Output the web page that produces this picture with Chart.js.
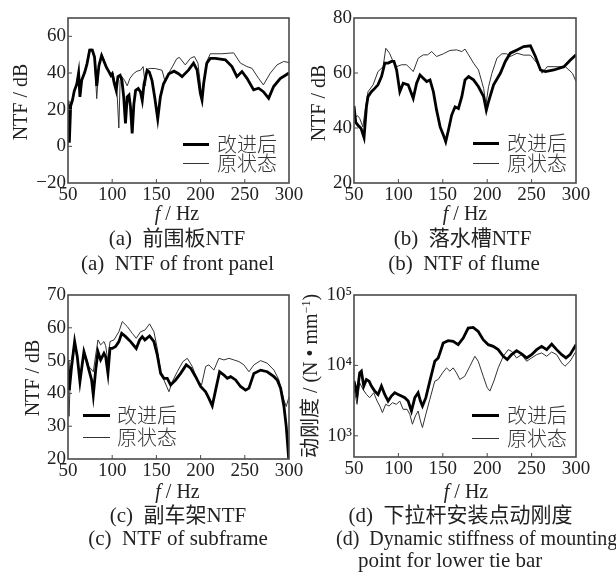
<!DOCTYPE html>
<html>
<head>
<meta charset="utf-8">
<script src="https://cdn.jsdelivr.net/npm/chart.js@4.4.1/dist/chart.umd.min.js"></script>
<style>
  body { margin: 0; background: #fff; }
  #wrap { position: relative; width: 616px; height: 574px; overflow: hidden; color: #222;
          font-family: "Liberation Serif", "Times New Roman", "Noto Sans CJK SC", serif; }
  canvas { position: absolute; }
  .t { position: absolute; white-space: pre; line-height: 1; transform: translate(-50%, -50%); }
  .tl { position: absolute; white-space: pre; line-height: 1; transform: translate(0, -50%); }
  .cap { font-size: 21px; }
  .ytitle { position: absolute; white-space: pre; line-height: 1; font-size: 20px;
            transform: translate(-50%, -50%) rotate(-90deg); }
  .zh { font-family: "Liberation Serif", "Noto Sans CJK SC", sans-serif; }
  .legline { position: absolute; background: #000; }
  .legtxt { position: absolute; font-size: 20px; line-height: 1; transform: translate(0, -50%);
            font-family: "Noto Sans CJK SC", sans-serif; font-weight: 300; color: #333; }
</style>
</head>
<body>
<div id="wrap">
  <canvas id="ca" width="310" height="207" style="left:0px;top:0px"></canvas>
  <canvas id="cb" width="316" height="207" style="left:300px;top:0px"></canvas>
  <canvas id="cc" width="310" height="206" style="left:0px;top:277px"></canvas>
  <canvas id="cd" width="316" height="204" style="left:300px;top:277px"></canvas>
</div>
<script>
const freqTicks = [50, 100, 150, 200, 250, 300];
const seriesNames = ['改进后', '原状态'];

// (a) 前围板NTF
const aFreqNew = [50, 51.5, 53, 55, 57, 60, 62, 63.5, 65.5, 69, 71.5, 74.5, 77.5, 80, 82.5, 85, 88, 91, 93.5, 96.5,
  98.5, 100, 102.5, 104.5, 106.5, 109, 111, 113, 115, 117, 119, 120.7, 122.6, 124.5, 126.5, 129.5, 132, 134, 136, 139.5,
  142, 145, 148, 151.5, 154.5, 158, 164, 170, 175, 179, 186.5, 192, 196, 199.7, 201.6, 203.5, 207, 211, 216.6, 228,
  235.5, 241, 246.8, 252.5, 260, 265.6, 271, 277, 282.6, 290, 300];
const aNtfNew = [25, 2, 22, 25, 30, 34, 40, 27, 36, 40.5, 45, 52.5, 52.5, 48.7, 33, 44, 49.5, 46, 43, 40.5,
  38.7, 39.6, 34, 30.5, 38, 38.7, 36, 27, 12.5, 27, 28, 21.5, 7, 23, 30.5, 31.5, 29.6, 25, 34, 41.5,
  40.5, 36, 27, 15, 27, 34, 39.6, 41, 39.6, 38, 41.7, 45.4, 41.7, 29, 25.3, 34.4, 45.4, 48, 48, 47.2,
  43.5, 38, 40.8, 37.1, 30.8, 31.7, 29.8, 26.2, 32.6, 37, 40];
const aFreqOld = [50, 51.5, 53, 55, 57, 60, 62, 63.5, 65.5, 69, 71.5, 74.5, 77.5, 80, 82.5, 85, 88, 91, 93.5, 96.5,
  99, 101, 103, 105, 107.5, 109, 111, 114, 117, 120, 124, 128, 132, 135, 137.5, 139.5, 143, 149, 156.4, 160,
  164, 168, 173, 176, 182.7, 188.4, 193, 197, 199.5, 201.6, 204, 207, 211, 224, 237.4, 245, 252.5, 258, 265.6, 271,
  278.8, 286.4, 294, 300];
const aNtfOld = [23, 8, 24, 26, 30, 35, 40, 28, 37, 41, 46, 53, 53, 48, 26, 45, 50.5, 47, 43, 41,
  39, 40, 35, 34, 10, 36, 38, 36, 33, 37, 39.6, 41, 41.5, 43.5, 33, 42, 42.5, 42.4, 41.5, 35,
  40, 43.3, 47.8, 48.5, 44.4, 48, 49, 45.4, 35, 25.3, 36, 46.3, 50.5, 50.5, 51, 45.4, 43.5, 42.6, 37.1, 33.5,
  39.9, 44.4, 46.3, 45.7];
const aYTicks = [-20, 0, 20, 40, 60];

// (b) 落水槽NTF
const bFreqNew = [50, 52, 54.5, 58, 61.3, 64, 65.8, 69.6, 73.4, 77, 81, 84.7, 88.5, 92.2, 95, 98, 101.6, 105.4, 111, 116.7,
  120.5, 124.3, 128, 131.8, 135.6, 139.4, 143, 147, 150.7, 153.3, 156.3, 160, 163.8, 167.6, 171.4, 175, 179, 184.6, 190.2, 196,
  199, 201.5, 207.2, 214.8, 220.4, 226, 233.6, 241, 248.7, 254.3, 260, 265.6, 275, 286.4, 294, 300];
const bNtfNew = [48, 42, 41, 39.8, 36.5, 47.7, 51.4, 53.2, 54.4, 55.7, 58.7, 63.6, 63.6, 64.2, 64.2, 61.1, 53.2, 56.3, 55.7, 50.8,
  56.3, 59.3, 58.1, 56.9, 57.5, 53.2, 46.5, 40.4, 37.4, 35, 39.2, 44.7, 47.7, 47.1, 51.4, 57.5, 58.7, 57.5, 55, 51.4,
  46.5, 49.6, 55.7, 59.9, 64.2, 67.2, 68.4, 69.6, 69.9, 66, 61.1, 60.5, 61.1, 62.3, 64.8, 66.6];
const bFreqOld = [50, 52, 54, 56.4, 60, 63, 65.8, 71.5, 77, 82.8, 85.8, 90, 94, 98, 103.5, 109.2, 115, 116.7, 122.4, 128,
  133, 137.5, 143, 150.7, 158, 165.7, 171.4, 175, 179, 184.6, 190.2, 196, 198.5, 201.5, 205.3, 211, 216.6, 222, 226, 233.6,
  241, 248.7, 256, 261.8, 267.5, 279, 288, 296, 300];
const bNtfOld = [47, 44, 44.5, 43.5, 40.4, 47.7, 53.2, 55.7, 60.5, 62.3, 69, 67.2, 64.2, 62.3, 63, 63, 61.1, 60.5, 65.4, 66.6,
  66.6, 67.8, 66, 67, 68.2, 68.4, 67.8, 68.7, 66.6, 63.6, 61.1, 54.4, 48.4, 55, 59.9, 65.4, 67, 67, 66, 67.2,
  66.5, 66.5, 63.6, 59.9, 62.3, 62.3, 62.3, 59.9, 56.9];
const bYTicks = [20, 40, 60, 80];

// (c) 副车架NTF
const cFreqNew = [50, 51.5, 54, 57.5, 60.5, 63.5, 66, 68, 70.7, 73.7, 76.7, 78.6, 81.3, 83.9, 86.9, 90.7, 92.6, 95.2, 97.5, 100.1,
  103.9, 107.6, 110.7, 115.2, 120.8, 127.2, 131, 134, 137, 142.3, 147.2, 151, 154.8, 158.5, 162.3, 166.1, 171.7, 177.4, 183.8, 188.7,
  194.4, 200, 205.7, 209.4, 213.2, 217, 221.5, 226.4, 230.2, 234, 239.6, 245.2, 250.9, 254.7, 260.3, 267.9, 275.4, 283, 286.7, 290.5,
  294.3, 296.9, 299.2, 300];
const cNtfNew = [50, 41, 48, 55.8, 51.2, 43.6, 48.7, 52.7, 50.2, 47.1, 44.1, 39.5, 47.1, 52.7, 50.2, 52.2, 51.2, 46.1, 53.7, 53.7,
  54.3, 55.8, 58.3, 57.3, 55.8, 53.7, 56.3, 57.3, 56.3, 57.5, 55.8, 51.7, 46.1, 44.6, 44.6, 42.6, 44.1, 46.1, 48.7, 47.7,
  45.1, 42.1, 40.5, 38.5, 36.2, 41, 46.6, 45.6, 44.6, 45.1, 44.1, 42.1, 41, 41.6, 46.1, 47.1, 46.6, 45.1, 44.1, 41.6,
  36, 29.9, 21.7, 19];
const cFreqOld = [50, 51.2, 53, 57.5, 60.5, 63.5, 68, 73.7, 78.6, 81.5, 83.9, 86.9, 90.7, 92.6, 95.2, 97.5, 102, 107.6, 111.4, 117,
  122.7, 127.2, 132.1, 137, 142.3, 147.2, 151, 154.8, 158.5, 164.2, 168, 173.6, 180, 185, 190.6, 196.2, 201.1, 205.7, 209.4, 215,
  220.7, 226.4, 232, 237.7, 243.4, 249, 254.7, 260.3, 267.9, 275.4, 283, 288.6, 294.3, 296.9, 300];
const cNtfOld = [49.5, 33, 48, 56.3, 51.7, 44.1, 53.2, 48.2, 46.6, 52, 56.3, 54.8, 55.8, 54.5, 49.7, 55.8, 56.3, 58.8, 61.9, 60.4,
  58.3, 56.8, 58.8, 59.3, 61.2, 58.8, 53.7, 46.6, 44.1, 40.5, 43.6, 46.6, 49.7, 50.7, 48.2, 44.1, 42.6, 48.2, 48.7, 47.1,
  50.7, 50.2, 50.7, 50.2, 49.7, 48.7, 46.6, 48.7, 50, 49.2, 47.1, 44.1, 38, 36, 39];
const cYTicks = [20, 30, 40, 50, 60, 70];

// (d) 下拉杆安装点动刚度, N/mm
const dFreqNew = [50, 53.4, 56.4, 58.3, 61, 64, 67, 69.6, 73.3, 77.1, 80.9, 84.6, 88.4, 92.1, 95.9, 99.7, 103.4, 107.2, 111, 114.7,
  118.5, 122.2, 124.8, 127.1, 130.9, 135.4, 141, 144.8, 147.4, 150.4, 156, 161.7, 167.3, 173, 178.6, 184.2, 189.9, 195.5, 201.2, 206.8,
  212.4, 218.1, 222.6, 227.5, 233.1, 238.7, 244.4, 250, 255.7, 261.3, 267, 272.6, 278.2, 283.9, 288.7, 293.3, 300];
const dStiffNew = [5980, 3870, 7830, 8280, 5080, 6310, 5980, 5080, 4320, 3870, 5080, 3870, 3120, 3670, 4090, 3870, 3670, 3480, 3120, 2250,
  3480, 4090, 3120, 2650, 3480, 5980, 11460, 12760, 15850, 20800, 22440, 21930, 19680, 24430, 33880, 34590, 30340, 23170, 19680, 18660,
  16750, 13490, 12110, 14220, 16220, 14550, 12760, 14220, 16750, 18660, 16750, 20140, 16750, 14220, 12760, 14220, 19680];
const dFreqOld = [50, 53.4, 56.4, 60.2, 64, 67.7, 72.2, 76, 79, 82, 85.7, 89.5, 93.3, 97.8, 101.5, 105.3, 109.8, 112.8, 115.8, 119.2,
  122.2, 124.8, 127.1, 130.9, 135.4, 141, 144.8, 149.7, 154.2, 158, 161.7, 165.4, 169.2, 174.8, 180.5, 186.1, 189.9, 195.5, 200, 203,
  207.5, 212.4, 218.1, 223.7, 227.5, 233.1, 238.7, 244.4, 250, 255.7, 261.3, 267, 272.6, 278.2, 283.9, 287.6, 293.3, 300];
const dStiffOld = [4820, 2800, 5660, 4560, 3870, 3480, 4090, 3120, 2650, 2140, 2800, 2650, 2950, 2800, 3120, 2380, 2380, 2020, 1460, 1920,
  2250, 1630, 1310, 2020, 3300, 5980, 6310, 7830, 9230, 8280, 9230, 7830, 6310, 7030, 9730, 13490, 11460, 7030, 4820, 4320,
  5980, 9230, 13490, 16750, 15850, 12760, 14220, 11460, 12760, 14220, 15030, 13490, 15490, 14220, 10840, 9730, 11460, 15850];
const dYTicks = [1000, 10000, 100000];

const tickFont = { family: '"Liberation Serif", "Times New Roman", serif', size: 19 };
const sup = { 3: '\u00b3', 4: '\u2074', 5: '\u2075' };

function pts(xs, ys) {
  return xs.map((x, i) => ({ x: x, y: ys[i] }));
}

// box round the plot area and short ticks pointing inwards
const framePlugin = {
  id: 'frame',
  afterDatasetsDraw(chart) {
    const { ctx, chartArea: a, scales } = chart;
    ctx.save();
    ctx.strokeStyle = '#4a4a4a';
    ctx.lineWidth = 1;
    ctx.beginPath();
    scales.x.ticks.forEach(t => {
      const px = scales.x.getPixelForValue(t.value);
      if (px > a.left + 2 && px < a.right - 2) {
        ctx.moveTo(px, a.bottom);
        ctx.lineTo(px, a.bottom - 4);
      }
    });
    scales.y.ticks.forEach(t => {
      const py = scales.y.getPixelForValue(t.value);
      if (py > a.top + 2 && py < a.bottom - 2) {
        ctx.moveTo(a.left, py);
        ctx.lineTo(a.left + 4, py);
      }
    });
    ctx.stroke();
    ctx.lineWidth = 1.6;
    ctx.strokeRect(a.left, a.top, a.right - a.left, a.bottom - a.top);
    ctx.restore();
  }
};

function drawPanel(id, newPts, oldPts, y, yTicks, yWidth, rightPad) {
  const ctx = document.getElementById(id).getContext('2d');
  return new Chart(ctx, {
    type: 'line',
    data: {
      datasets: [
        { label: seriesNames[0], data: newPts, borderColor: '#000', borderWidth: 2.8, pointRadius: 0, tension: 0 },
        { label: seriesNames[1], data: oldPts, borderColor: '#333', borderWidth: 1, pointRadius: 0, tension: 0 }
      ]
    },
    options: {
      responsive: false,
      animation: false,
      events: [],
      layout: { padding: { left: 0, top: 18, right: rightPad, bottom: 0 } },
      plugins: { legend: { display: false }, tooltip: { enabled: false } },
      scales: {
        x: {
          type: 'linear', min: 50, max: 300,
          grid: { display: false, drawTicks: false }, border: { display: false },
          ticks: { font: tickFont, color: '#222', padding: 1, maxRotation: 0, autoSkip: false },
          afterBuildTicks: s => { s.ticks = freqTicks.map(v => ({ value: v })); },
          afterFit: s => { s.height = 24; }
        },
        y: {
          type: y.type, min: y.min, max: y.max,
          grid: { display: false, drawTicks: false }, border: { display: false },
          ticks: {
            font: tickFont, color: '#222', padding: 2, autoSkip: false,
            callback: y.type === 'logarithmic' ? (v => '10' + sup[Math.round(Math.log10(v))]) : (v => v < 0 ? '\u221220' : v)
          },
          afterBuildTicks: s => { s.ticks = yTicks.map(v => ({ value: v })); },
          afterFit: s => { s.width = yWidth; }
        }
      }
    },
    plugins: [framePlugin]
  });
}

drawPanel('ca', pts(aFreqNew, aNtfNew), pts(aFreqOld, aNtfOld), { type: 'linear', min: -20, max: 70 }, aYTicks, 68, 21);
drawPanel('cb', pts(bFreqNew, bNtfNew), pts(bFreqOld, bNtfOld), { type: 'linear', min: 20, max: 80 }, bYTicks, 54, 40);
drawPanel('cc', pts(cFreqNew, cNtfNew), pts(cFreqOld, cNtfOld), { type: 'linear', min: 20, max: 70 }, cYTicks, 68, 21);
drawPanel('cd', pts(dFreqNew, dStiffNew), pts(dFreqOld, dStiffOld), { type: 'logarithmic', min: 500, max: 100000 }, dYTicks, 54, 40);

// titles, captions and legends as page text
const wrap = document.getElementById('wrap');
function addText(cls, html, x, y, size) {
  const el = document.createElement('div');
  el.className = cls;
  el.innerHTML = html;
  el.style.left = x + 'px';
  el.style.top = y + 'px';
  if (size) el.style.fontSize = size + 'px';
  wrap.appendChild(el);
}
function addLegend(x1, x2, yNew, yOld, textX) {
  [[yNew, 3], [yOld, 1]].forEach((r, i) => {
    const ln = document.createElement('div');
    ln.className = 'legline';
    ln.style.left = x1 + 'px';
    ln.style.width = (x2 - x1) + 'px';
    ln.style.top = (r[0] - r[1] / 2) + 'px';
    ln.style.height = r[1] + 'px';
    if (i === 1) ln.style.background = '#333';
    wrap.appendChild(ln);
    addText('legtxt', seriesNames[i], textX, r[0]);
  });
}

addText('ytitle', 'NTF / dB', 20, 102);
addText('ytitle', 'NTF / dB', 318, 103);
addText('ytitle', 'NTF / dB', 31.5, 378);
addText('ytitle zh', '动刚度 / (N • mm<sup style="font-size:12px">\u22121</sup>)', 310, 376);

const fHz = '<i>f</i> / Hz';
addText('t', fHz, 177, 213, 20);
addText('t', fHz, 465, 213, 20);
addText('t', fHz, 177.5, 491, 20);
addText('t', fHz, 466, 491, 20);

addText('t cap zh', '(a)  前围板NTF', 177, 238);
addText('t cap', '(a)  NTF of front panel', 177.5, 263);
addText('t cap zh', '(b)  落水槽NTF', 462.5, 238);
addText('t cap', '(b)  NTF of flume', 464, 263);
addText('t cap zh', '(c)  副车架NTF', 178, 515);
addText('t cap', '(c)  NTF of subframe', 178, 538);
addText('t cap zh', '(d)  下拉杆安装点动刚度', 460.5, 515);
addText('tl cap', '(d)  Dynamic stiffness of mounting', 336, 538, 20);
addText('tl cap', 'point for lower tie bar', 358, 560);

addLegend(183, 209, 144, 163, 217);
addLegend(473, 499, 143, 163, 507);
addLegend(83, 110, 415, 437, 117);
addLegend(472, 499, 415, 438, 507);
</script>
</body>
</html>
